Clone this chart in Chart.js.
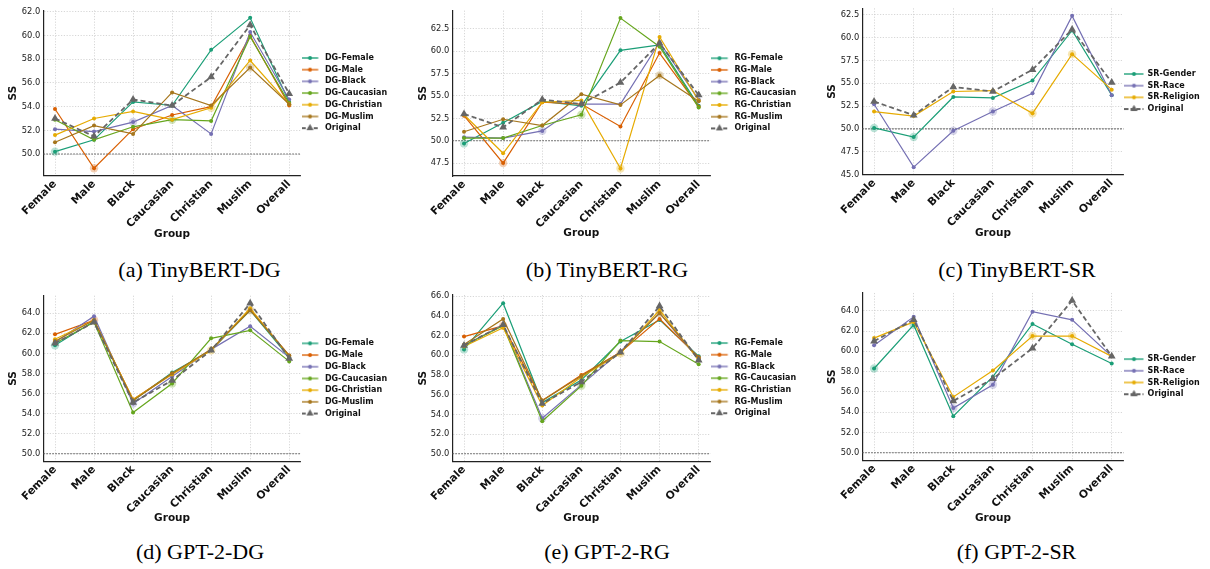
<!DOCTYPE html>
<html><head><meta charset="utf-8">
<script src="https://cdn.jsdelivr.net/npm/chart.js@4.4.1/dist/chart.umd.min.js"></script>
<style>
html,body{margin:0;padding:0;background:#fff;width:1210px;height:569px;overflow:hidden;position:relative;}
.panel{position:absolute;}
.cap{position:absolute;font-family:'Liberation Serif','Times New Roman',serif;font-size:22px;color:#000;transform:translate(-50%,-50%);white-space:nowrap;line-height:1;}
</style></head><body>
<script>
// ---------------- DATA ----------------
const CATEGORIES = ['Female','Male','Black','Caucasian','Christian','Muslim','Overall'];
const DG_LABELS = ['DG-Female','DG-Male','DG-Black','DG-Caucasian','DG-Christian','DG-Muslim'];
const RG_LABELS = ['RG-Female','RG-Male','RG-Black','RG-Caucasian','RG-Christian','RG-Muslim'];
const SR_LABELS = ['SR-Gender','SR-Race','SR-Religion'];
const ORIGINAL_LABEL = 'Original';
const CAPTIONS = ['(a) TinyBERT-DG','(b) TinyBERT-RG','(c) TinyBERT-SR','(d) GPT-2-DG','(e) GPT-2-RG','(f) GPT-2-SR'];
const X_TITLE = 'Group';
const Y_TITLE = 'SS';

const TINYBERT_ORIGINAL = [53.0, 51.5, 54.6, 54.1, 56.5, 60.9, 55.1];
const TINYBERT_DG_FEMALE    = [50.2, 51.2, 54.4, 54.1, 58.8, 61.5, 54.4];
const TINYBERT_DG_MALE      = [53.8, 48.8, 52.1, 53.3, 54.0, 60.0, 54.1];
const TINYBERT_DG_BLACK     = [52.1, 51.9, 52.7, 54.1, 51.7, 60.3, 54.6];
const TINYBERT_DG_CAUCASIAN = [52.9, 51.2, 52.3, 52.9, 52.8, 59.9, 54.3];
const TINYBERT_DG_CHRISTIAN = [51.6, 53.0, 53.6, 52.9, 53.9, 57.9, 54.2];
const TINYBERT_DG_MUSLIM    = [51.0, 52.4, 51.7, 55.2, 54.1, 57.3, 54.2];

const TINYBERT_RG_FEMALE    = [49.7, 52.0, 54.4, 53.9, 60.1, 60.7, 53.9];
const TINYBERT_RG_MALE      = [52.8, 47.5, 54.3, 54.1, 51.6, 59.8, 53.8];
const TINYBERT_RG_BLACK     = [50.4, 50.3, 51.1, 54.1, 54.1, 61.0, 54.6];
const TINYBERT_RG_CAUCASIAN = [50.3, 50.3, 51.7, 52.9, 63.7, 60.5, 53.7];
const TINYBERT_RG_CHRISTIAN = [52.9, 48.6, 54.3, 54.5, 46.9, 61.6, 54.5];
const TINYBERT_RG_MUSLIM    = [51.0, 52.4, 51.7, 55.2, 54.0, 57.3, 54.4];

const TINYBERT_SR_GENDER   = [50.1, 49.1, 53.5, 53.4, 55.3, 60.8, 53.7];
const TINYBERT_SR_RACE     = [52.7, 45.8, 49.8, 51.9, 53.9, 62.4, 53.7];
const TINYBERT_SR_RELIGION = [51.9, 51.4, 54.1, 54.2, 51.7, 58.2, 54.3];

const GPT2_ORIGINAL = [61.0, 63.1, 55.1, 57.3, 60.3, 65.0, 59.5];
const GPT2_DG_FEMALE    = [60.8, 63.2, 55.3, 58.1, 60.3, 64.3, 59.6];
const GPT2_DG_MALE      = [61.9, 63.3, 55.4, 58.0, 60.3, 64.4, 59.8];
const GPT2_DG_BLACK     = [61.1, 63.7, 55.0, 57.7, 60.4, 62.7, 59.6];
const GPT2_DG_CAUCASIAN = [61.0, 63.1, 54.1, 57.0, 61.5, 62.3, 59.2];
const GPT2_DG_CHRISTIAN = [61.4, 63.3, 55.4, 57.9, 60.3, 64.5, 59.7];
const GPT2_DG_MUSLIM    = [61.2, 63.3, 55.3, 58.0, 60.4, 64.3, 59.8];

const GPT2_RG_FEMALE    = [60.6, 65.3, 55.2, 57.5, 61.4, 63.6, 59.9];
const GPT2_RG_MALE      = [61.9, 63.0, 55.4, 58.0, 60.3, 63.7, 59.8];
const GPT2_RG_BLACK     = [61.0, 63.1, 53.6, 57.0, 60.4, 64.3, 59.6];
const GPT2_RG_CAUCASIAN = [61.0, 63.0, 53.3, 56.9, 61.5, 61.4, 59.1];
const GPT2_RG_CHRISTIAN = [60.9, 62.8, 54.9, 57.8, 60.2, 64.6, 59.5];
const GPT2_RG_MUSLIM    = [61.1, 63.7, 55.4, 57.9, 60.3, 64.3, 59.7];

const GPT2_SR_GENDER   = [58.3, 62.6, 53.6, 57.5, 62.7, 60.7, 58.8];
const GPT2_SR_RACE     = [60.6, 63.4, 54.4, 56.7, 63.9, 63.1, 59.5];
const GPT2_SR_RELIGION = [61.3, 62.9, 55.5, 58.1, 61.5, 61.5, 59.5];

// category indices emphasised for each series (halo)
const DG_HALO = [[0],[1],[2],[3],[4],[5]];
const SR_HALO = [[0,1],[2,3],[4,5]];
const REF_LEVEL = 50;

const Y_TICKS_A = [50,52,54,56,58,60,62];
const Y_TICKS_B = [47.5,50,52.5,55,57.5,60,62.5];
const Y_TICKS_C = [45,47.5,50,52.5,55,57.5,60,62.5];
const Y_TICKS_D = [50,52,54,56,58,60,62,64];
const Y_TICKS_E = [50,52,54,56,58,60,62,64,66];
const Y_TICKS_F = [50,52,54,56,58,60,62,64];
const Y_RANGE_A = [48.17, 62.13];
const Y_RANGE_B = [46.06, 64.54];
const Y_RANGE_C = [44.97, 63.23];
const Y_RANGE_D = [49.25, 65.75];
const Y_RANGE_E = [49.23, 66.13];
const Y_RANGE_F = [49.25, 65.75];

// ---------------- STYLE / LAYOUT ----------------
const FONT = "'DejaVu Sans', sans-serif";
const COLORS6 = ['#1b9e77','#d95f02','#7570b3','#66a61e','#e6ab02','#a6761d'];
const COLORS3 = ['#1b9e77','#7570b3','#e6ab02'];
const ORIG_COLOR = '#666666';

const PANELS = [
  {geom:{x:0,y:0,w:400,h:250,area:[43.3,10.4,300.9,175.7],titleY:234,hl:16.5},
   series:[TINYBERT_DG_FEMALE,TINYBERT_DG_MALE,TINYBERT_DG_BLACK,TINYBERT_DG_CAUCASIAN,TINYBERT_DG_CHRISTIAN,TINYBERT_DG_MUSLIM],
   labels:DG_LABELS, colors:COLORS6, halo:DG_HALO, original:TINYBERT_ORIGINAL, yticks:Y_TICKS_A, yrange:Y_RANGE_A, cap:[199.5,270]},
  {geom:{x:410,y:0,w:400,h:250,area:[452.3,10.6,710.4,176],titleY:233,hl:16.5},
   series:[TINYBERT_RG_FEMALE,TINYBERT_RG_MALE,TINYBERT_RG_BLACK,TINYBERT_RG_CAUCASIAN,TINYBERT_RG_CHRISTIAN,TINYBERT_RG_MUSLIM],
   labels:RG_LABELS, colors:COLORS6, halo:DG_HALO, original:TINYBERT_ORIGINAL, yticks:Y_TICKS_B, yrange:Y_RANGE_B, cap:[607,270]},
  {geom:{x:819,y:0,w:391,h:250,area:[862.2,8.3,1123.6,174.7],titleY:233,hl:19},
   series:[TINYBERT_SR_GENDER,TINYBERT_SR_RACE,TINYBERT_SR_RELIGION],
   labels:SR_LABELS, colors:COLORS3, halo:SR_HALO, original:TINYBERT_ORIGINAL, yticks:Y_TICKS_C, yrange:Y_RANGE_C, cap:[1017,270]},
  {geom:{x:0,y:285,w:400,h:250,area:[43.3,295.7,300.9,461.2],titleY:518.7,hl:16.5},
   series:[GPT2_DG_FEMALE,GPT2_DG_MALE,GPT2_DG_BLACK,GPT2_DG_CAUCASIAN,GPT2_DG_CHRISTIAN,GPT2_DG_MUSLIM],
   labels:DG_LABELS, colors:COLORS6, halo:DG_HALO, original:GPT2_ORIGINAL, yticks:Y_TICKS_D, yrange:Y_RANGE_D, cap:[200,552]},
  {geom:{x:410,y:285,w:400,h:250,area:[452.3,295.0,710.4,461.3],titleY:518.7,hl:16.5},
   series:[GPT2_RG_FEMALE,GPT2_RG_MALE,GPT2_RG_BLACK,GPT2_RG_CAUCASIAN,GPT2_RG_CHRISTIAN,GPT2_RG_MUSLIM],
   labels:RG_LABELS, colors:COLORS6, halo:DG_HALO, original:GPT2_ORIGINAL, yticks:Y_TICKS_E, yrange:Y_RANGE_E, cap:[607,552]},
  {geom:{x:819,y:285,w:391,h:250,area:[862.2,292.5,1123.6,460.3],titleY:518.7,hl:19},
   series:[GPT2_SR_GENDER,GPT2_SR_RACE,GPT2_SR_RELIGION],
   labels:SR_LABELS, colors:COLORS3, halo:SR_HALO, original:GPT2_ORIGINAL, yticks:Y_TICKS_F, yrange:Y_RANGE_F, cap:[1016.5,552]},
];

function rgba(hex, a){
  const n = parseInt(hex.slice(1),16);
  return `rgba(${(n>>16)&255},${(n>>8)&255},${n&255},${a})`;
}

function handle(color, isOrig, len){
  const c = document.createElement('canvas');
  c.width = 22; c.height = 12;
  const g = c.getContext('2d');
  g.lineWidth = 1.8;
  g.strokeStyle = isOrig ? color : rgba(color, 0.75);
  if (isOrig) g.setLineDash([4,2]);
  g.beginPath(); g.moveTo(0, 6); g.lineTo(len, 6); g.stroke();
  g.setLineDash([]);
  g.fillStyle = color;
  const cx = len/2;
  g.beginPath();
  if (isOrig) { const r = 4.2; g.moveTo(cx, 6 - r); g.lineTo(cx + r*0.866, 6 + r/2); g.lineTo(cx - r*0.866, 6 + r/2); g.closePath(); }
  else g.arc(cx, 6, 2, 0, Math.PI*2);
  g.fill();
  return c;
}

const decoPlugin = {
  id: 'deco',
  beforeDatasetsDraw(chart){
    const {ctx, chartArea, scales:{y}} = chart;
    const py = y.getPixelForValue(REF_LEVEL);
    ctx.save();
    ctx.strokeStyle = '#555'; ctx.lineWidth = 1.1; ctx.setLineDash([1.5,1.5]);
    ctx.beginPath(); ctx.moveTo(chartArea.left, py); ctx.lineTo(chartArea.right, py); ctx.stroke();
    ctx.setLineDash([]);
    chart.data.datasets.forEach((ds, di) => {
      if (!ds.halo) return;
      const meta = chart.getDatasetMeta(di);
      ds.halo.forEach(idx => {
        const pt = meta.data[idx]; if (!pt) return;
        ctx.beginPath(); ctx.arc(pt.x, pt.y, 4.2, 0, Math.PI*2);
        ctx.fillStyle = rgba(ds.borderColor, 0.3); ctx.fill();
      });
    });
    ctx.restore();
  }
};

const legendWidthPlugin = {
  id: 'legendWidth',
  beforeLayout(chart, args, opts){
    const lg = chart.legend;
    if (lg && !lg.__patched){
      const orig = lg.fit;
      lg.fit = function(){ orig.call(this); this.width = opts.width; };
      lg.__patched = true;
    }
  }
};

function makeChart(p){
  const g = p.geom;
  const wrap = document.createElement('div'); wrap.className = 'panel';
  wrap.style.left = g.x + 'px'; wrap.style.top = g.y + 'px';
  const cv = document.createElement('canvas'); cv.width = g.w; cv.height = g.h;
  cv.style.width = g.w + 'px'; cv.style.height = g.h + 'px';
  wrap.appendChild(cv); document.body.appendChild(wrap);

  const padL = 7;
  const yW = g.area[0] - g.x - padL;
  const padT = g.area[1] - g.y;
  const titleHalf = 6.3;
  const xH = (g.titleY + titleHalf) - g.area[3];
  const padB = g.h - (g.titleY + titleHalf - g.y);
  const legW = g.x + g.w - g.area[2];
  const n = p.series.length;

  const datasets = p.series.map((vals, i) => ({
    label: p.labels[i],
    data: vals.map((v, j) => ({x: j, y: v})),
    borderColor: p.colors[i], backgroundColor: p.colors[i],
    borderWidth: 1.2, pointRadius: 2, pointHoverRadius: 2, pointBorderWidth: 0,
    pointStyle: 'circle', order: n - i + 1, halo: p.halo[i], tension: 0
  }));
  datasets.push({
    label: ORIGINAL_LABEL,
    data: p.original.map((v, j) => ({x: j, y: v})),
    borderColor: ORIG_COLOR, backgroundColor: ORIG_COLOR,
    borderWidth: 1.8, borderDash: [5,3], pointStyle: 'triangle', pointRadius: 4.5, pointHoverRadius: 4.5,
    pointBorderWidth: 0, order: 0, tension: 0
  });
  const handles = datasets.map((d, i) => handle(d.borderColor, i === n, g.hl));

  const gridCommon = {color: '#cdcdcd', lineWidth: 0.8, drawTicks: false};
  const borderCommon = {display: true, color: '#222', width: 1.2, dash: [1.2,1.6]};

  new Chart(cv, {
    type: 'line',
    data: {datasets},
    plugins: [decoPlugin, legendWidthPlugin],
    options: {
      responsive: false, animation: false, devicePixelRatio: 1,
      layout: {padding: {left: padL, top: padT, right: 0, bottom: padB}},
      plugins: {
        legendWidth: {width: legW},
        tooltip: {enabled: false},
        legend: {
          position: 'right', align: 'center', fullSize: false,
          labels: {
            usePointStyle: true, pointStyleWidth: 16.3, padding: 3.7, color: '#111',
            font: {family: FONT, size: 8, weight: 'bold'},
            sort: (a, b) => a.datasetIndex - b.datasetIndex,
            generateLabels(chart){
              const items = Chart.defaults.plugins.legend.labels.generateLabels(chart);
              items.forEach(it => { it.pointStyle = handles[it.datasetIndex]; });
              return items;
            }
          }
        }
      },
      scales: {
        x: {
          type: 'linear', min: -0.3, max: 6.3,
          afterBuildTicks: s => { s.ticks = CATEGORIES.map((c, i) => ({value: i})); },
          afterFit: s => { s.height = xH; },
          ticks: {autoSkip: false, minRotation: 45, maxRotation: 45, padding: 2, color: '#111',
                  font: {family: FONT, size: 10.8, weight: 'bold'}, callback: v => CATEGORIES[v]},
          grid: gridCommon, border: borderCommon,
          title: {display: true, text: X_TITLE, padding: 0, color: '#111', font: {family: FONT, size: 10.5, weight: 'bold'}}
        },
        y: {
          type: 'linear', min: p.yrange[0], max: p.yrange[1],
          afterBuildTicks: s => { s.ticks = p.yticks.map(v => ({value: v})); },
          afterFit: s => { s.width = yW; },
          ticks: {padding: 3, color: '#222', font: {family: FONT, size: 8.3}, callback: v => Number(v).toFixed(1)},
          grid: gridCommon, border: borderCommon,
          title: {display: true, text: Y_TITLE, padding: 0, color: '#111', font: {family: FONT, size: 10.5, weight: 'bold'}}
        }
      }
    }
  });

  const cap = document.createElement('div'); cap.className = 'cap';
  cap.textContent = CAPTIONS[PANELS.indexOf(p)];
  cap.style.left = p.cap[0] + 'px'; cap.style.top = p.cap[1] + 'px';
  document.body.appendChild(cap);
}

PANELS.forEach(makeChart);
</script>
</body></html>
